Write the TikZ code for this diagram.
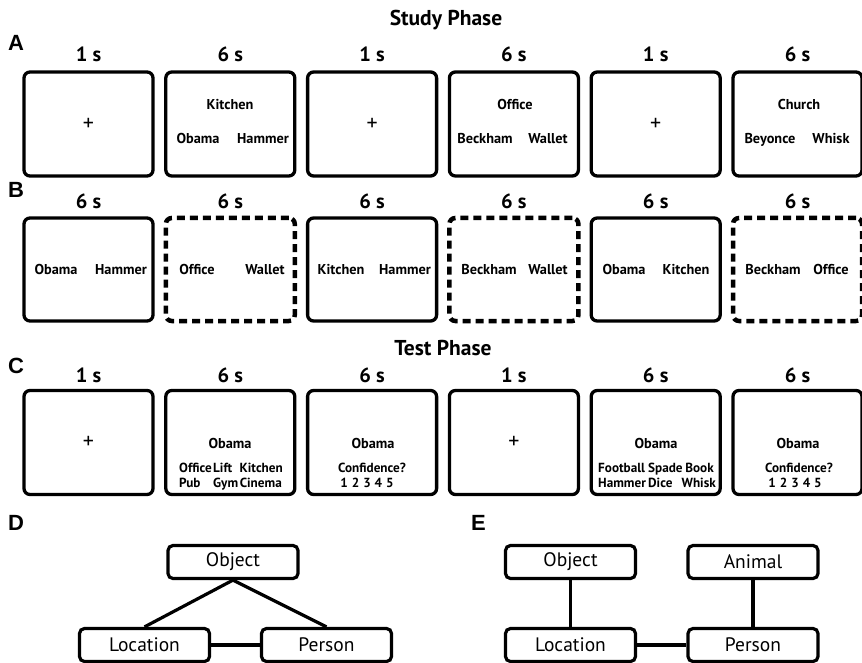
\documentclass[tikz,border=0pt]{standalone}
\usepackage{fontspec}
\setmainfont{PT Sans}
\newfontfamily\labfont{Liberation Sans}
\begin{document}
\begin{tikzpicture}[x=1pt,y=-1pt,
  stim/.style={draw, line width=3.3pt, rounded corners=6pt, minimum width=129pt, minimum height=104pt, inner sep=0pt},
  stimdash/.style={stim, line width=4.5pt, dash pattern=on 8pt off 5pt},
  wd/.style={font=\bfseries\fontsize{14.3}{16}\selectfont, inner sep=0pt, text height=10pt, text depth=0pt},
  opt/.style={font=\bfseries\fontsize{13.2}{15}\selectfont, inner sep=0pt, text height=9.5pt, text depth=0pt},
  crs/.style={font=\fontsize{22}{24}\selectfont, inner sep=0pt},
  tm/.style={font=\bfseries\fontsize{20.5}{23}\selectfont, inner sep=0pt, text height=14pt, text depth=0pt},
  ttl/.style={font=\bfseries\fontsize{21.5}{24}\selectfont, inner sep=0pt, text height=14pt, text depth=4pt},
  lab/.style={font=\labfont\bfseries\fontsize{22}{24}\selectfont, inner sep=0pt, anchor=west},
  gbox/.style={draw, line width=3.2pt, rounded corners=5pt, minimum width=130pt, minimum height=33pt, inner sep=0pt, font=\fontsize{19.5}{22}\selectfont},
  link/.style={line width=3.2pt}
]
\useasboundingbox (0,0) rectangle (862,663);

% titles and panel letters
\node[ttl] (study) at (446,21) {Study Phase};
\node[ttl] (test) at (443,350) {Test Phase};
\node[lab] (lA) at (8,43) {A};
\node[lab] (lB) at (8,190) {B};
\node[lab] (lC) at (8,366) {C};
\node[lab] (lD) at (8,523) {D};
\node[lab] (lE) at (471,523) {E};

% Row A
\foreach \i/\t in {1/1 s,2/6 s,3/1 s,4/6 s,5/1 s,6/6 s}{
  \node[stim] (a\i) at ({88.5+(\i-1)*141.8},124) {};
  \node[tm] (ta\i) at ({88.5+(\i-1)*141.8},55) {\t};
}
\node[crs] (pa1) at (a1.center) {+};
\node[crs] (pa3) at (a3.center) {+};
\node[crs] (pa5) at (a5.center) {+};
\node[wd] (a2loc) at (230,105) {Kitchen};
\node[wd] (a2per) at (198,139) {Obama};
\node[wd] (a2obj) at (263,139) {Hammer};
\node[wd] (a4loc) at (515,105) {Office};
\node[wd] (a4per) at (485,139) {Beckham};
\node[wd] (a4obj) at (548,139) {Wallet};
\node[wd] (a6loc) at (799,105) {Church};
\node[wd] (a6per) at (770,139) {Beyonce};
\node[wd] (a6obj) at (831,139) {Whisk};

% Row B
\foreach \i/\s in {1/stim,2/stimdash,3/stim,4/stimdash,5/stim,6/stimdash}{
  \node[\s, minimum height=103pt] (b\i) at ({88.5+(\i-1)*141.8},269.5) {};
  \node[tm] (tb\i) at ({88.5+(\i-1)*141.8},202) {6 s};
}
\node[wd] (b1l) at (56,269) {Obama};
\node[wd] (b1r) at (121,269) {Hammer};
\node[wd] (b2l) at (197,269) {Office};
\node[wd] (b2r) at (265,269) {Wallet};
\node[wd] (b3l) at (341,269) {Kitchen};
\node[wd] (b3r) at (405,269) {Hammer};
\node[wd] (b4l) at (489,269) {Beckham};
\node[wd] (b4r) at (548,269) {Wallet};
\node[wd] (b5l) at (624,269) {Obama};
\node[wd] (b5r) at (686,269) {Kitchen};
\node[wd] (b6l) at (773,269) {Beckham};
\node[wd] (b6r) at (831,269) {Office};

% Row C
\foreach \i/\t in {1/1 s,2/6 s,3/6 s,4/1 s,5/6 s,6/6 s}{
  \node[stim] (c\i) at ({88.5+(\i-1)*141.8},442.5) {};
  \node[tm] (tc\i) at ({88.5+(\i-1)*141.8},375) {\t};
}
\node[crs] (pc1) at (c1.center) {+};
\node[crs] (pc4) at (c4.center) {+};
\node[wd] (c2cue) at (230,443) {Obama};
\node[opt, anchor=west] (c2o1) at (179,468) {Office};
\node[opt, anchor=west] (c2o2) at (213,468) {Lift};
\node[opt, anchor=east] (c2o3) at (283,468) {Kitchen};
\node[opt, anchor=west] (c2o4) at (179,483) {Pub};
\node[opt, anchor=west] (c2o5) at (213,483) {Gym};
\node[opt, anchor=east] (c2o6) at (282,483) {Cinema};
\node[wd] (c3cue) at (373,443) {Obama};
\node[opt] (c3q) at (372,468) {Confidence?};
\node[opt] (c3s) at (367,483) {1\hspace{4pt}2\hspace{4pt}3\hspace{4pt}4\hspace{4pt}5};
\node[wd] (c5cue) at (656,443) {Obama};
\node[opt, anchor=west] (c5o1) at (598,468) {Football};
\node[opt, anchor=west] (c5o2) at (648,468) {Spade};
\node[opt, anchor=east] (c5o3) at (714,468) {Book};
\node[opt, anchor=west] (c5o4) at (598,483) {Hammer};
\node[opt, anchor=west] (c5o5) at (648,483) {Dice};
\node[opt, anchor=east] (c5o6) at (716,483) {Whisk};
\node[wd] (c6cue) at (798,443) {Obama};
\node[opt] (c6q) at (799,468) {Confidence?};
\node[opt] (c6s) at (795,483) {1\hspace{4pt}2\hspace{4pt}3\hspace{4pt}4\hspace{4pt}5};

% Panel D
\node[gbox] (dobj) at (233,562) {Object};
\node[gbox] (dloc) at (144.5,645) {Location};
\node[gbox] (dper) at (326.5,645) {Person};
\draw[link] (dobj.south) -- (dloc.north);
\draw[link] (dobj.south) -- (dper.north);
\draw[link] (dloc.east) -- (dper.west);

% Panel E
\node[gbox] (eobj) at (570.5,562) {Object};
\node[gbox] (eani) at (753,562) {Animal};
\node[gbox] (eloc) at (570.5,645) {Location};
\node[gbox] (eper) at (753,645) {Person};
\draw[link] (eobj.south) -- (eloc.north);
\draw[link] (eani.south) -- (eper.north);
\draw[link] (eloc.east) -- (eper.west);
\end{tikzpicture}
\end{document}
